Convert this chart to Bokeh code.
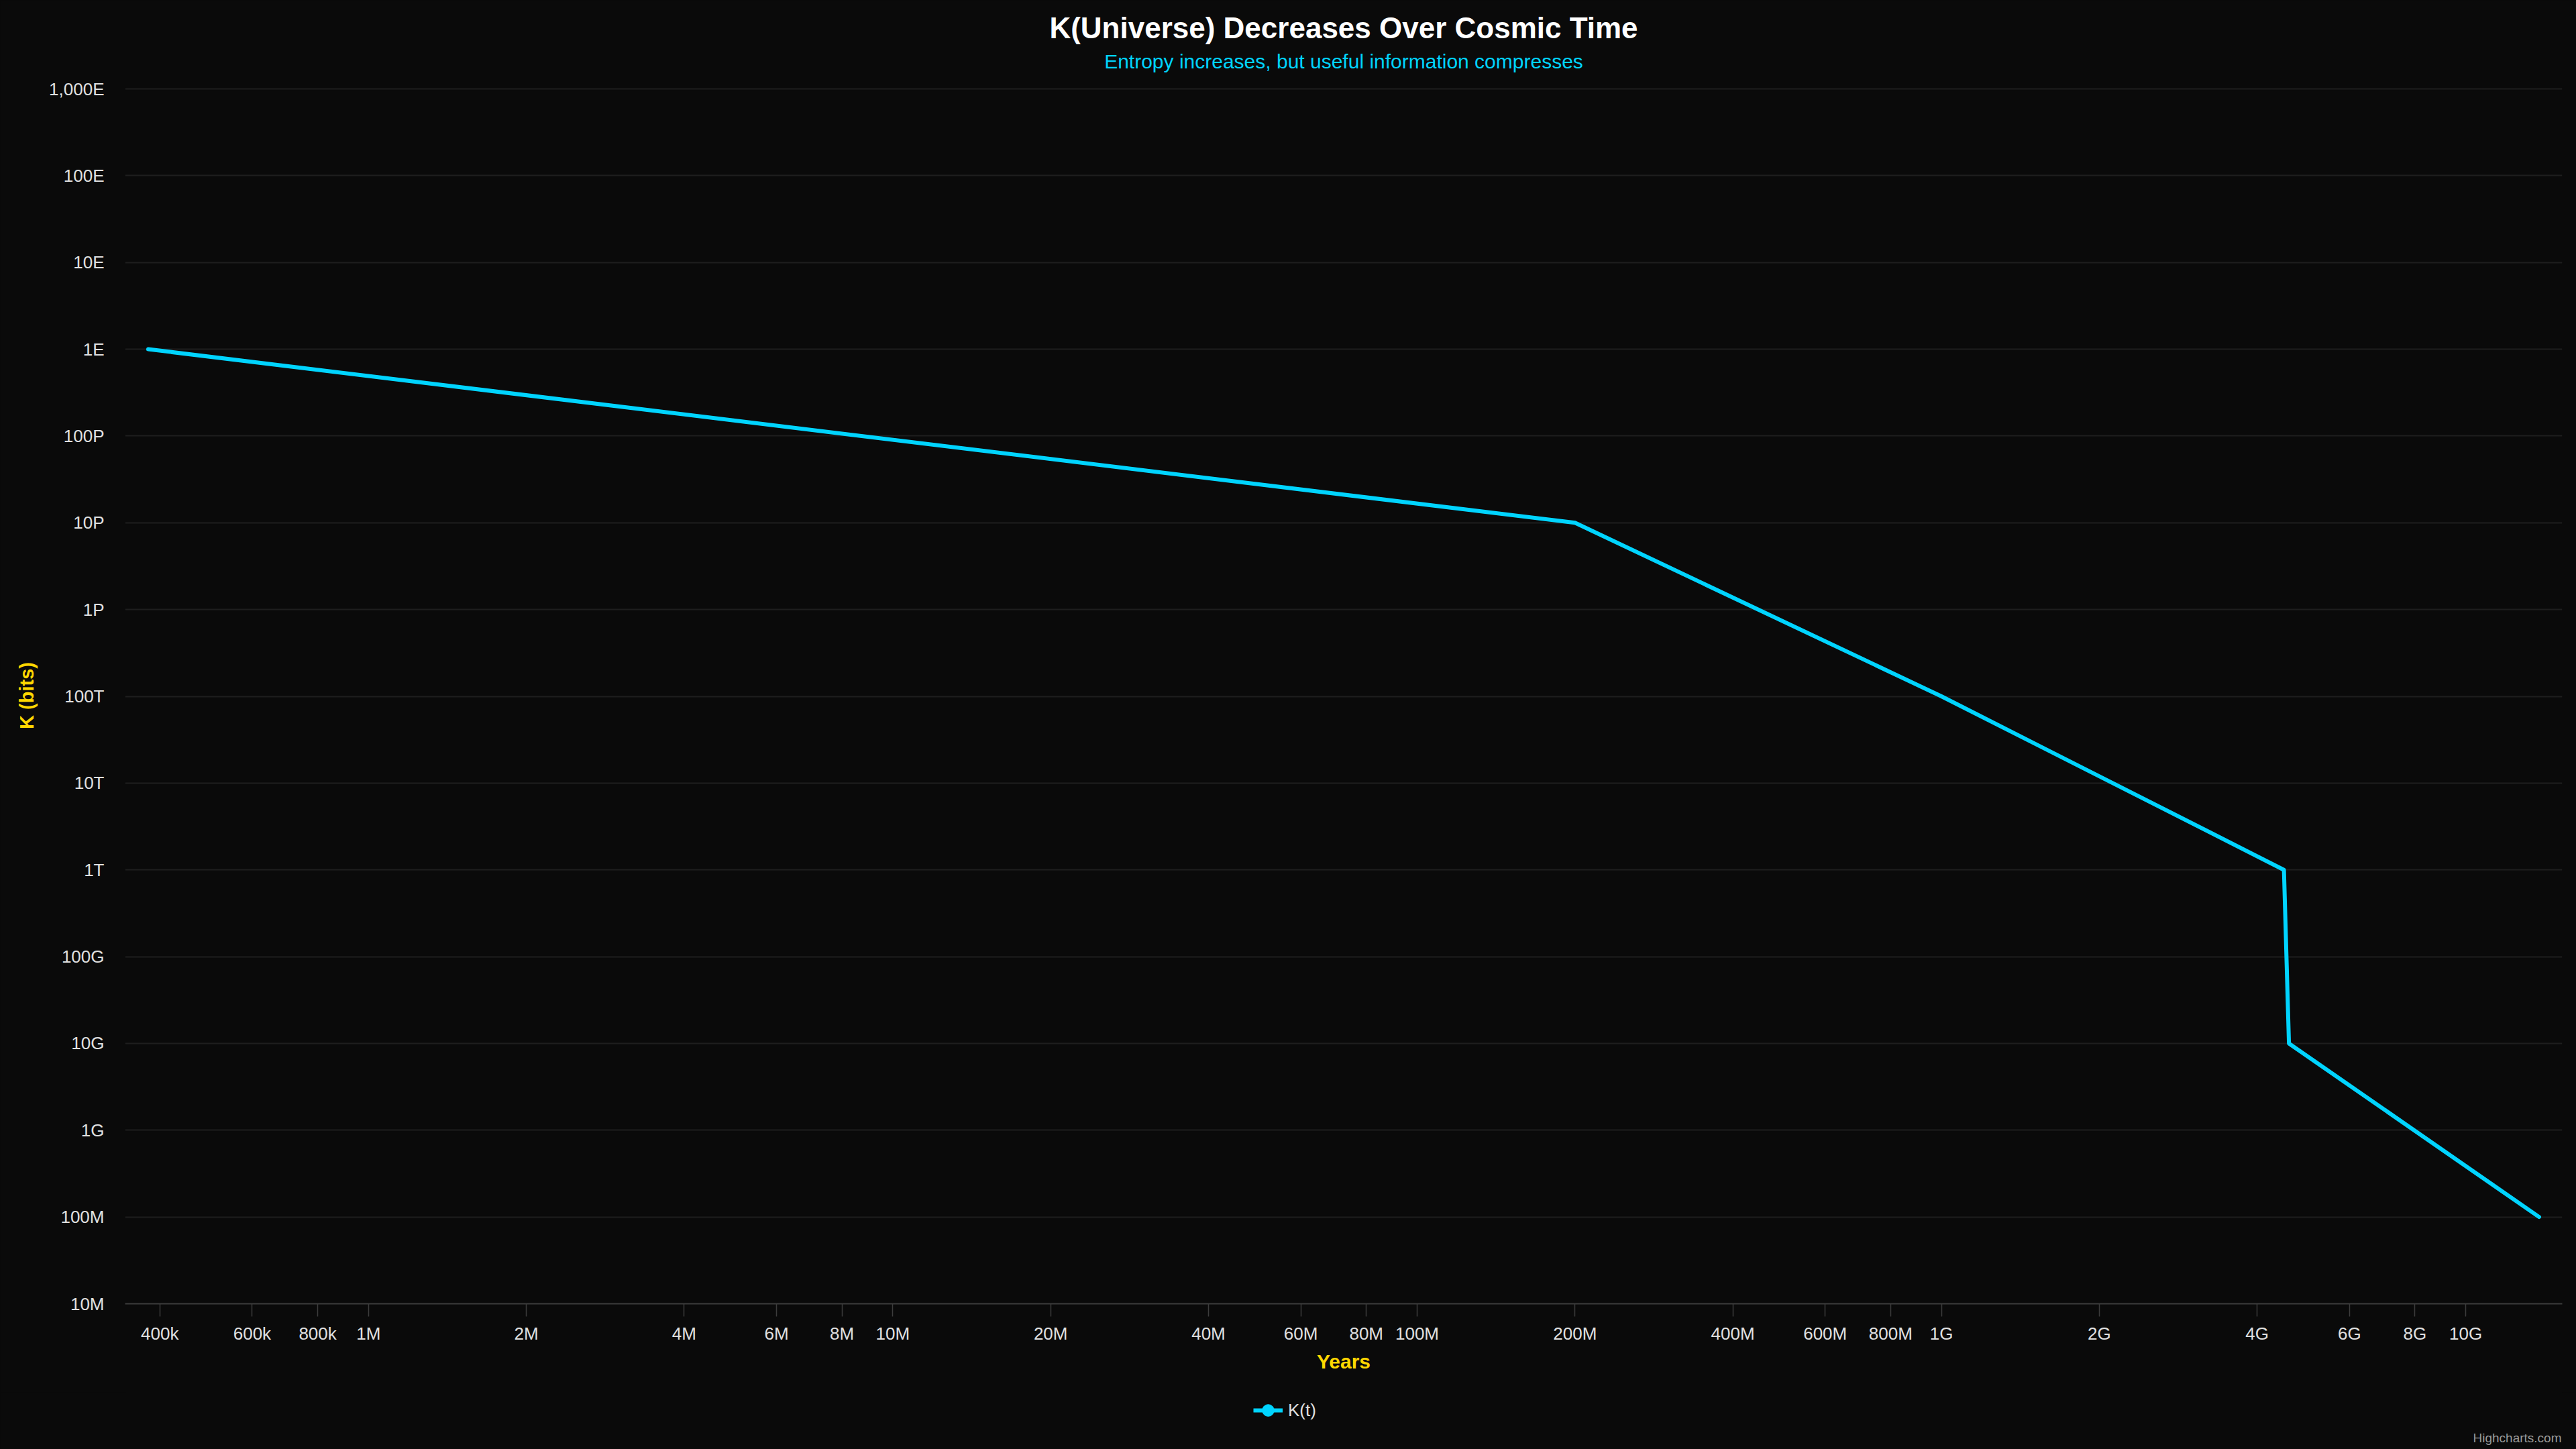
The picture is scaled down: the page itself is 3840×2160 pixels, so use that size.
from bokeh.plotting import figure
from bokeh.layouts import column
from bokeh.models import (ColumnDataSource, FixedTicker, CustomJSTickFormatter, Title,
                          Legend, LegendItem, Range1d, Label)
from bokeh.embed import file_html
from bokeh.resources import INLINE

# ---- data ----
years = [380e3, 200e6, 1e9, 4.5e9, 4.6e9, 13.8e9]
k_bits = [1e18, 1e16, 1e14, 1e12, 1e10, 1e8]

x_ticks = [4e5, 6e5, 8e5, 1e6, 2e6, 4e6, 6e6, 8e6, 1e7, 2e7, 4e7, 6e7, 8e7, 1e8,
           2e8, 4e8, 6e8, 8e8, 1e9, 2e9, 4e9, 6e9, 8e9, 1e10]
x_tick_labels = ["400k", "600k", "800k", "1M", "2M", "4M", "6M", "8M", "10M", "20M",
                 "40M", "60M", "80M", "100M", "200M", "400M", "600M", "800M", "1G",
                 "2G", "4G", "6G", "8G", "10G"]
y_ticks = [1e7, 1e8, 1e9, 1e10, 1e11, 1e12, 1e13, 1e14, 1e15, 1e16, 1e17, 1e18,
           1e19, 1e20, 1e21]
y_tick_labels = ["10M", "100M", "1G", "10G", "100G", "1T", "10T", "100T", "1P",
                 "10P", "100P", "1E", "10E", "100E", "1,000E"]

title_text = "K(Universe) Decreases Over Cosmic Time"
subtitle_text = "Entropy increases, but useful information compresses"
series_name = "K(t)"
credit_text = "Highcharts.com"

BG = "#0a0a0a"
CYAN = "#00d4ff"
YELLOW = "#ffd700"
LABEL = "#e0e0e0"
FONT = "Liberation Sans"

W, H = 3840, 2160
LEG_H = 85                      # height of the legend strip under the chart
H_MAIN = H - LEG_H
BL, BR, BT = 186, 21, 130
BB = H_MAIN - 1943
center_shift = W / 2 - (BL + (W - BR)) / 2   # chart centre relative to frame centre

p = figure(width=W, height=H_MAIN, x_axis_type="log", y_axis_type="log",
           x_range=Range1d(10 ** 5.5358, 10 ** 10.184),
           y_range=Range1d(1e7, 10 ** 21.0155),
           output_backend="svg", toolbar_location=None, title=None,
           min_border_left=BL, min_border_right=BR, min_border_top=BT,
           min_border_bottom=BB)
p.background_fill_color = BG
p.border_fill_color = BG
p.outline_line_color = None

# titles
sub = Title(text=subtitle_text, align="center", text_color=CYAN, offset=center_shift,
            text_font=FONT, text_font_size="30px", text_font_style="normal", standoff=46)
p.add_layout(sub, "above")
main = Title(text=title_text, align="center", text_color="#ffffff", offset=center_shift,
             text_font=FONT, text_font_size="44px", text_font_style="bold", standoff=-33)
p.add_layout(main, "above")

fmt_code = """
for (let i = 0; i < vals.length; i++) {
  if (Math.abs(vals[i] - tick) < 1e-6 * vals[i]) return labs[i];
}
return "";
"""

# x axis
xa = p.xaxis[0]
xa.ticker = FixedTicker(ticks=x_ticks, minor_ticks=[])
xa.formatter = CustomJSTickFormatter(args=dict(vals=x_ticks, labs=x_tick_labels), code=fmt_code)
xa.axis_line_color = "#3c3c3c"
xa.axis_line_width = 2
xa.major_tick_line_color = "#3c3c3c"
xa.major_tick_line_width = 1.5
xa.major_tick_out = 19
xa.major_tick_in = 0
xa.minor_tick_line_color = None
xa.major_label_standoff = 10
xa.major_label_text_color = LABEL
xa.major_label_text_font = FONT
xa.major_label_text_font_size = "26px"
xa.axis_label = "Years"
xa.axis_label_text_color = YELLOW
xa.axis_label_text_font = FONT
xa.axis_label_text_font_size = "30px"
xa.axis_label_text_font_style = "bold"
xa.axis_label_standoff = 7

# y axis
ya = p.yaxis[0]
ya.ticker = FixedTicker(ticks=y_ticks, minor_ticks=[])
ya.formatter = CustomJSTickFormatter(args=dict(vals=y_ticks, labs=y_tick_labels), code=fmt_code)
ya.axis_line_color = None
ya.major_tick_line_color = None
ya.minor_tick_line_color = None
ya.major_tick_out = 0
ya.major_tick_in = 0
ya.major_label_standoff = 31
ya.major_label_text_color = LABEL
ya.major_label_text_font = FONT
ya.major_label_text_font_size = "26px"
ya.axis_label = "K (bits)"
ya.axis_label_text_color = YELLOW
ya.axis_label_text_font = FONT
ya.axis_label_text_font_size = "29px"
ya.axis_label_text_font_style = "bold"
ya.axis_label_standoff = 14

# grid
p.xgrid.grid_line_color = None
p.ygrid.ticker = FixedTicker(ticks=y_ticks, minor_ticks=[])
p.ygrid.grid_line_color = "#1e1e1e"
p.ygrid.grid_line_width = 2

src = ColumnDataSource(dict(x=years, y=k_bits))
line_r = p.line("x", "y", source=src, line_color=CYAN, line_width=6,
                line_join="round", line_cap="round")

# ---- legend strip (separate small figure under the chart, frame aligned with p) ----
p2 = figure(width=W, height=LEG_H, x_range=Range1d(0, 1), y_range=Range1d(0, 1),
            x_axis_location=None, y_axis_location=None, output_backend="svg",
            toolbar_location=None, title=None, min_border=0)
p2.background_fill_color = BG
p2.border_fill_color = BG
p2.outline_line_color = None
p2.grid.visible = False

leg_line = p2.line("x", "y", source=src, line_color=CYAN, line_width=6, visible=False)
leg_marker = p2.scatter("x", "y", source=src, marker="circle", fill_color=CYAN,
                        line_color=CYAN, visible=False)

GLYPH = 44
legend = Legend(items=[LegendItem(label=series_name, renderers=[leg_line, leg_marker])],
                location=(1920 - 8 - GLYPH - BL, LEG_H - 27 - GLYPH // 2),
                orientation="horizontal",
                background_fill_alpha=0, border_line_color=None,
                label_text_color=LABEL, label_text_font=FONT,
                label_text_font_size="26px", glyph_width=GLYPH, glyph_height=GLYPH,
                label_standoff=8, padding=0, margin=0)
p2.add_layout(legend, "center")

credit = Label(x=W - BR - BL - 1, y=LEG_H - 68, x_units="screen", y_units="screen",
               text=credit_text, text_align="right", text_baseline="middle",
               text_color="#999999", text_font=FONT, text_font_size="19px")
p2.add_layout(credit)

layout = column(p, p2, spacing=0)
html = file_html(layout, INLINE)
css = ("<style>html, body { background-color: #0a0a0a !important; margin: 0; }</style>"
       "</head>")
html = html.replace("</head>", css, 1)
open("out.html", "w").write(html)
